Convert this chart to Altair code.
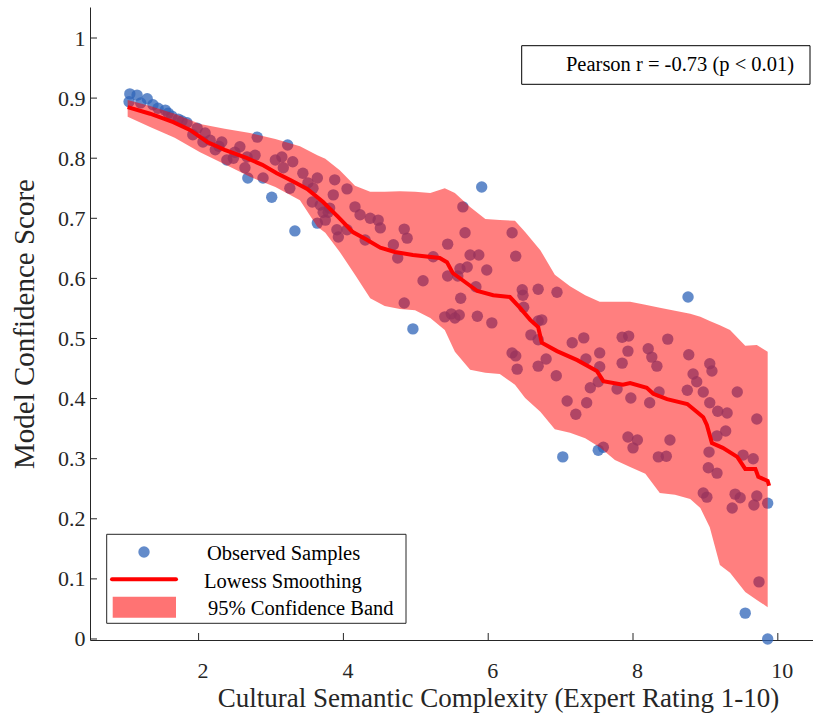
import altair as alt
import pandas as pd

# ---------------- data ----------------
sample_x = [1.05, 1.15, 1.04, 1.29, 1.37, 1.54, 1.58, 1.72, 1.84, 1.92, 2.09, 2.06, 2.23, 2.32,
            2.39, 2.48, 2.57, 2.67, 2.64, 2.68, 2.81, 2.78, 2.89, 3.01, 3.06, 3.15, 3.23, 3.17,
            3.30, 3.44, 3.51, 3.58, 3.64, 3.57, 3.68, 3.72, 3.79, 3.64, 3.75, 3.86, 3.88, 3.91,
            3.33, 1.20, 1.44, 1.63, 1.77, 1.98, 2.16, 2.28, 2.50,
            3.26, 4.05, 3.81, 3.93, 4.05, 4.16, 4.23, 4.37, 4.48, 4.51, 4.30, 4.84, 4.88, 4.69,
            4.75, 5.24, 5.10, 4.84, 4.96, 5.40, 5.49, 5.54, 5.60, 5.44, 5.68, 5.65, 5.91, 5.75,
            5.87, 5.71, 5.61, 5.44, 5.58, 5.98, 5.83, 5.62, 5.85, 6.05, 6.33, 6.38, 6.47, 6.48,
            6.49, 6.59, 6.33, 6.38, 6.69, 6.95, 6.69, 6.74, 6.69, 6.40, 6.69, 6.80, 6.94, 7.16,
            7.32, 7.35, 7.54, 7.54, 7.52, 7.41, 7.09, 7.21, 7.36, 7.78, 7.97, 7.85, 7.85, 7.94,
            7.93, 8.21, 8.26, 8.33, 8.48, 8.76, 8.77, 8.83, 8.88, 8.75, 8.97, 9.06, 9.09, 9.06,
            9.17, 9.30, 8.23, 8.36, 7.59, 7.03, 7.93, 8.06, 8.00, 7.52, 8.35, 8.46, 8.51, 9.44,
            9.71, 9.28, 9.16, 9.05, 9.52, 9.66, 9.04, 9.16, 8.97, 9.02, 9.41, 9.48, 9.37, 9.71,
            9.67, 9.86, 9.74, 9.55, 9.86]
sample_y = [0.907, 0.905, 0.894, 0.899, 0.889, 0.880, 0.875, 0.865, 0.859, 0.839, 0.842, 0.827, 0.814, 0.827,
            0.797, 0.800, 0.819, 0.802, 0.784, 0.767, 0.835, 0.805, 0.767, 0.735, 0.797, 0.802, 0.822, 0.784,
            0.794, 0.775, 0.759, 0.750, 0.767, 0.727, 0.722, 0.710, 0.710, 0.692, 0.697, 0.739, 0.764, 0.681,
            0.679, 0.892, 0.883, 0.870, 0.862, 0.850, 0.830, 0.820, 0.810,
            0.750, 0.749, 0.717, 0.669, 0.681, 0.719, 0.706, 0.700, 0.697, 0.684, 0.664, 0.682, 0.667, 0.656,
            0.634, 0.636, 0.596, 0.559, 0.516, 0.536, 0.541, 0.534, 0.539, 0.657, 0.676, 0.719, 0.752, 0.639,
            0.639, 0.619, 0.616, 0.604, 0.604, 0.614, 0.586, 0.567, 0.537, 0.526, 0.676, 0.637, 0.581, 0.572,
            0.552, 0.506, 0.476, 0.471, 0.582, 0.577, 0.529, 0.531, 0.498, 0.449, 0.454, 0.466, 0.438, 0.493,
            0.501, 0.466, 0.476, 0.453, 0.428, 0.418, 0.396, 0.374, 0.393, 0.416, 0.401, 0.459, 0.502, 0.504,
            0.479, 0.483, 0.469, 0.454, 0.499, 0.569, 0.473, 0.441, 0.428, 0.414, 0.411, 0.458, 0.446, 0.393,
            0.379, 0.376, 0.393, 0.411, 0.319, 0.303, 0.336, 0.331, 0.318, 0.314, 0.303, 0.304, 0.331, 0.411,
            0.366, 0.346, 0.338, 0.311, 0.306, 0.300, 0.285, 0.276, 0.243, 0.236, 0.241, 0.235, 0.218, 0.238,
            0.223, 0.226, 0.095, 0.043, 0.0]

lowess_x = [1.02, 1.33, 1.65, 1.88, 2.12, 2.36, 2.67, 2.88, 3.08, 3.26, 3.50, 3.72, 3.93, 4.13,
            4.33, 4.51, 4.71, 4.96, 5.33, 5.43, 5.51, 5.68, 5.85, 6.07, 6.30, 6.44, 6.58, 6.69,
            6.74, 6.95, 7.23, 7.50, 7.59, 7.86, 7.96, 8.19, 8.28, 8.47, 8.75, 8.88, 8.97, 9.02,
            9.09, 9.24, 9.44, 9.55, 9.69, 9.73, 9.86, 9.88]
lowess_y = [0.885, 0.874, 0.860, 0.847, 0.827, 0.814, 0.800, 0.789, 0.775, 0.764, 0.749, 0.727, 0.702, 0.677,
            0.664, 0.651, 0.644, 0.639, 0.634, 0.627, 0.609, 0.594, 0.579, 0.572, 0.569, 0.551, 0.531, 0.519,
            0.493, 0.479, 0.464, 0.446, 0.429, 0.423, 0.426, 0.418, 0.408, 0.399, 0.391, 0.378, 0.369, 0.356,
            0.326, 0.318, 0.303, 0.283, 0.283, 0.270, 0.263, 0.255]

band_x = [1.02, 1.33, 1.67, 2.02, 2.36, 2.71, 3.06, 3.40, 3.64, 3.75, 3.95, 4.16, 4.37, 4.57, 4.78,
          4.99, 5.20, 5.40, 5.54, 5.75, 5.96, 6.16, 6.37, 6.51, 6.72, 6.92, 7.13, 7.34, 7.54,
          7.75, 7.96, 8.17, 8.37, 8.58, 8.79, 8.93, 9.06, 9.20, 9.34, 9.55, 9.71, 9.86]
band_upper = [0.897, 0.887, 0.874, 0.857, 0.849, 0.842, 0.832, 0.820, 0.805, 0.799, 0.780, 0.754, 0.744, 0.744, 0.745,
              0.744, 0.742, 0.750, 0.742, 0.719, 0.699, 0.697, 0.696, 0.677, 0.647, 0.606, 0.587, 0.572, 0.561,
              0.561, 0.561, 0.556, 0.551, 0.546, 0.541, 0.536, 0.529, 0.522, 0.514, 0.488, 0.489, 0.478]
band_lower = [0.869, 0.852, 0.834, 0.810, 0.790, 0.769, 0.752, 0.730, 0.686, 0.676, 0.644, 0.606, 0.567, 0.554, 0.549,
              0.547, 0.534, 0.514, 0.478, 0.448, 0.443, 0.441, 0.423, 0.401, 0.378, 0.349, 0.343, 0.334, 0.319,
              0.298, 0.286, 0.275, 0.243, 0.240, 0.233, 0.218, 0.186, 0.123, 0.110, 0.078, 0.065, 0.053]

x_ticks = [2, 4, 6, 8, 10]
y_ticks = [0, 0.1, 0.2, 0.3, 0.4, 0.5, 0.6, 0.7, 0.8, 0.9, 1.0]
legend_labels = ["Observed Samples", "Lowess Smoothing", "95% Confidence Band"]
annotation_text = "Pearson r = -0.73 (p < 0.01)"
x_title = "Cultural Semantic Complexity (Expert Rating 1-10)"
y_title = "Model Confidence Score"

# ---------------- style ----------------
FONT = "Liberation Serif"
AX = "#262626"
BLUE = "#2f64b8"
RED = "#ff0000"
W, H = 723, 633

pts = pd.DataFrame({"x": sample_x, "y": sample_y})
lw = pd.DataFrame({"x": lowess_x, "y": lowess_y})
band = pd.DataFrame({"x": band_x, "upper": band_upper, "lower": band_lower})
xt = pd.DataFrame({"x": x_ticks})
yt = pd.DataFrame({"y": y_ticks})
one = alt.Data(values=[{"k": 0}])

xs = alt.Scale(domain=[0.5, 10.486], nice=False, zero=False)
ys = alt.Scale(domain=[-0.0017, 1.0516], nice=False, zero=False)

xaxis = alt.Axis(values=x_ticks, format="d", title=x_title, grid=False, ticks=False, tickSize=0,
                 domainColor=AX, labelColor=AX, labelFont=FONT, labelFontSize=22,
                 labelBaseline="alphabetic", labelPadding=37, labelOffset=4,
                 titleFont=FONT, titleFontSize=27, titleFontWeight="normal", titleColor=AX,
                 titleX=408, titleY=66, titleAlign="center", titleBaseline="alphabetic")
yaxis = alt.Axis(values=y_ticks, format=".1~f", title=y_title, grid=False, ticks=False, tickSize=0,
                 domainColor=AX, labelColor=AX, labelFont=FONT, labelFontSize=22,
                 labelPadding=5, labelBaseline="middle",
                 titleFont=FONT, titleFontSize=29, titleFontWeight="normal", titleColor=AX,
                 titleX=-57, titleY=316.5, titleAngle=270, titleAlign="center",
                 titleBaseline="alphabetic")

points = alt.Chart(pts).mark_circle(size=130, color=BLUE, opacity=0.75).encode(
    x=alt.X("x:Q", scale=xs, axis=xaxis),
    y=alt.Y("y:Q", scale=ys, axis=yaxis),
)
band_layer = alt.Chart(band).mark_area(color=RED, opacity=0.5).encode(
    x=alt.X("x:Q", scale=xs),
    y=alt.Y("upper:Q", scale=ys),
    y2="lower:Q",
)
line_layer = alt.Chart(lw).mark_line(color=RED, strokeWidth=4).encode(
    x=alt.X("x:Q", scale=xs),
    y=alt.Y("y:Q", scale=ys),
)
xtick_layer = alt.Chart(xt).mark_rule(color=AX, strokeWidth=1).encode(
    x=alt.X("x:Q", scale=xs), y=alt.value(H), y2=alt.value(H - 7)
)
ytick_layer = alt.Chart(yt).mark_rule(color=AX, strokeWidth=1).encode(
    y=alt.Y("y:Q", scale=ys), x=alt.value(0), x2=alt.value(7)
)

# legend (drawn in pixel space of the plot)
leg_box = alt.Chart(one).mark_rect(fill="white", stroke=AX, strokeWidth=1).encode(
    x=alt.value(16.7), x2=alt.value(316), y=alt.value(527.3), y2=alt.value(616.3))
leg_pt = alt.Chart(one).mark_circle(size=130, color=BLUE, opacity=0.75).encode(
    x=alt.value(54), y=alt.value(545))
leg_line = alt.Chart(one).mark_rule(color=RED, strokeWidth=4, strokeCap="round").encode(
    x=alt.value(22), x2=alt.value(86), y=alt.value(572.3))
leg_patch = alt.Chart(one).mark_rect(color=RED, opacity=0.55).encode(
    x=alt.value(22.7), x2=alt.value(86), y=alt.value(589.7), y2=alt.value(610.7))
leg_texts = []
for lbl, lx, ly in zip(legend_labels, [117, 114, 118], [547, 575, 602]):
    leg_texts.append(alt.Chart(one).mark_text(font=FONT, fontSize=20.5, color="#000", align="left",
                                             baseline="middle").encode(
        x=alt.value(lx), y=alt.value(ly), text=alt.value(lbl)))

ann_box = alt.Chart(one).mark_rect(fill="white", stroke="#000", strokeWidth=1).encode(
    x=alt.value(431.7), x2=alt.value(720), y=alt.value(38.7), y2=alt.value(77.3))
ann_text = alt.Chart(one).mark_text(font=FONT, fontSize=20.5, color="#000", align="center",
                                    baseline="middle").encode(
    x=alt.value(590), y=alt.value(58), text=alt.value(annotation_text))

chart = alt.layer(
    points, band_layer, line_layer, xtick_layer, ytick_layer,
    leg_box, leg_pt, leg_line, leg_patch, *leg_texts, ann_box, ann_text
).properties(
    width=W, height=H,
    autosize=alt.AutoSizeParams(type="none"),
    padding={"left": 90, "top": 7, "right": 0, "bottom": 84},
    background="white",
).configure_view(stroke=None)

chart.save("out.html", embed_options={"renderer": "svg", "actions": False})
